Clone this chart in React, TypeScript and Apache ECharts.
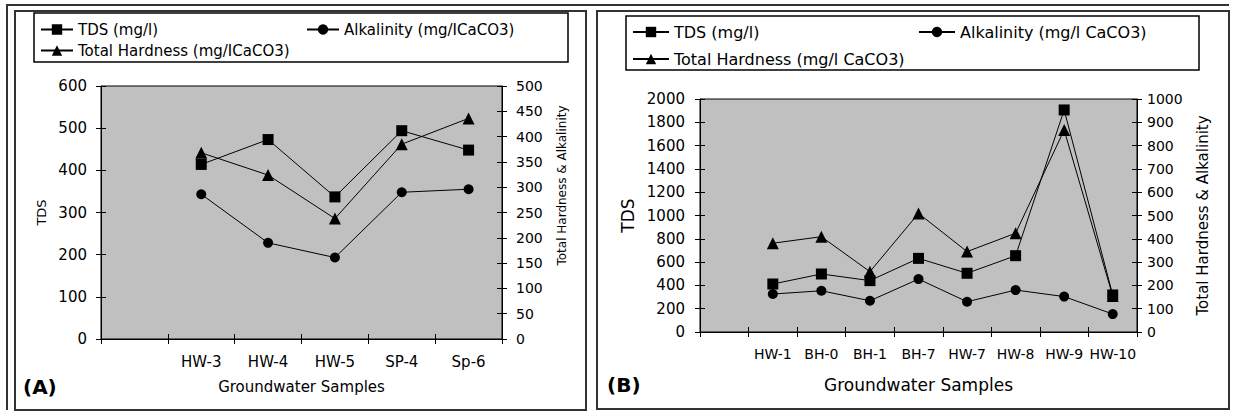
import React, { useEffect, useRef } from 'react';
import * as echarts from 'echarts';

// Panel A data
const categoriesA = ['', 'HW-3', 'HW-4', 'HW-5', 'SP-4', 'Sp-6'];
const tdsA = [null, 414, 473, 337, 494, 448];
const alkalinityA = [null, 286, 190, 161, 290, 296];
const hardnessA = [null, 368, 324, 238, 385, 436];

// Panel B data
const categoriesB = ['', 'HW-1', 'BH-0', 'BH-1', 'BH-7', 'HW-7', 'HW-8', 'HW-9', 'HW-10'];
const tdsB = [null, 412, 498, 441, 632, 504, 655, 1906, 318];
const alkalinityB = [null, 163, 177, 134, 227, 130, 180, 152, 77];
const hardnessB = [null, 381, 409, 259, 509, 345, 424, 867, 155];

const namesA = ['TDS (mg/l)', 'Alkalinity (mg/ICaCO3)', 'Total Hardness (mg/ICaCO3)'];
const namesB = ['TDS (mg/l)', 'Alkalinity (mg/l CaCO3)', 'Total Hardness (mg/l CaCO3)'];

const FONT = 'DejaVu Sans';

function yAxes(gridIndex: number, position: string, min: number, max: number, interval: number,
  labelSize: number, margin: number, name: string, nameSize: number, nameGap: number, namePadding: number[]) {
  return [
    {
      type: 'value', gridIndex, position, min, max, interval,
      axisLine: { show: true, lineStyle: { color: '#000', width: 1 } },
      axisTick: { show: true, length: 5, lineStyle: { color: '#000' } },
      axisLabel: { fontFamily: FONT, fontSize: labelSize, color: '#000', margin, formatter: (v: number) => String(v) },
      splitLine: { show: false },
      name, nameLocation: 'middle', nameRotate: 90, nameGap,
      nameTextStyle: { fontFamily: FONT, fontSize: nameSize, color: '#000', padding: namePadding },
    },
    {
      type: 'value', gridIndex, position, min, max, interval,
      axisLine: { show: false },
      axisTick: { show: true, inside: true, length: 5, lineStyle: { color: '#000' } },
      axisLabel: { show: false },
      splitLine: { show: false },
    },
  ];
}

function xAxes(gridIndex: number, data: string[], labelSize: number, nameSize: number, nameGap: number) {
  return [
    {
      type: 'category', gridIndex, data, boundaryGap: true, position: 'bottom',
      axisLine: { show: true, lineStyle: { color: '#000', width: 1 } },
      axisTick: { show: true, length: 5, interval: 0, lineStyle: { color: '#000' } },
      axisLabel: { interval: 0, fontFamily: FONT, fontSize: labelSize, color: '#000', margin: 15, hideOverlap: false },
      splitLine: { show: false },
      name: 'Groundwater Samples', nameLocation: 'middle', nameGap,
      nameTextStyle: { fontFamily: FONT, fontSize: nameSize, color: '#000' },
    },
    {
      type: 'category', gridIndex, data, boundaryGap: true, position: 'bottom',
      axisLine: { show: false },
      axisTick: { show: true, inside: true, length: 5, interval: 0, lineStyle: { color: '#000' } },
      axisLabel: { show: false },
      splitLine: { show: false },
    },
  ];
}

function lineSeries(name: string, data: (number | null)[], xAxisIndex: number, yAxisIndex: number, symbol: string, symbolSize: number) {
  return {
    type: 'line', name, data, xAxisIndex, yAxisIndex, symbol, symbolSize,
    showSymbol: true, connectNulls: false,
    lineStyle: { color: '#000', width: 1 },
    itemStyle: { color: '#000' },
  };
}

function legendItem(name: string, left: number, top: number, itemWidth: number, fontSize: number) {
  return {
    show: true, data: [name], left, top, itemWidth, itemHeight: 13, padding: 0, selectedMode: false,
    textStyle: { fontFamily: FONT, fontSize, color: '#000' },
  };
}

export default function App() {
  const ref = useRef<HTMLDivElement>(null);
  useEffect(() => {
    if (!ref.current) return;
    const chart = echarts.init(ref.current, undefined, { renderer: 'svg' });
    const option: any = {
      animation: false,
      backgroundColor: '#fff',
      grid: [
        { left: 101, top: 86, width: 401, height: 253, show: true, backgroundColor: '#c0c0c0', borderColor: '#000', borderWidth: 1 },
        { left: 700, top: 99, width: 437, height: 233, show: true, backgroundColor: '#c0c0c0', borderColor: '#000', borderWidth: 1 },
      ],
      xAxis: [
        ...xAxes(0, categoriesA, 15, 15, 40),
        ...xAxes(1, categoriesB, 14, 17, 44),
      ],
      yAxis: [
        ...yAxes(0, 'left', 0, 600, 100, 15, 14, 'TDS', 13, 53, [0, 0, 0, 0]),
        ...yAxes(0, 'right', 0, 500, 50, 14, 14, 'Total Hardness & Alkalinity', 12, 54, [0, 0, 0, 54]),
        ...yAxes(1, 'left', 0, 2000, 200, 15, 15, 'TDS', 17, 64, [0, 0, 0, 0]),
        ...yAxes(1, 'right', 0, 1000, 100, 14, 10, 'Total Hardness & Alkalinity', 15, 58, [0, 0, 0, 0]),
      ],
      legend: [
        legendItem(namesA[0], 40, 22, 32, 15),
        legendItem(namesA[1], 306, 22, 32, 15),
        legendItem(namesA[2], 40, 43, 32, 15),
        legendItem(namesB[0], 632, 24, 36, 16),
        legendItem(namesB[1], 918, 24, 36, 16),
        legendItem(namesB[2], 632, 51, 36, 16),
      ],
      series: [
        lineSeries(namesA[0], tdsA, 0, 0, 'rect', 11),
        lineSeries(namesA[1], alkalinityA, 0, 2, 'circle', 10),
        lineSeries(namesA[2], hardnessA, 0, 2, 'triangle', 12),
        lineSeries(namesB[0], tdsB, 2, 4, 'rect', 11),
        lineSeries(namesB[1], alkalinityB, 2, 6, 'circle', 10),
        lineSeries(namesB[2], hardnessB, 2, 6, 'triangle', 12),
      ],
      graphic: [
        { type: 'polyline', shape: { points: [[7, 410], [7, 5], [1229, 5]] }, style: { fill: 'none', stroke: '#333', lineWidth: 2 } },
        { type: 'rect', shape: { x: 15, y: 11, width: 571, height: 399 }, style: { fill: 'none', stroke: '#333', lineWidth: 2 } },
        { type: 'rect', shape: { x: 597, y: 11, width: 632, height: 398 }, style: { fill: 'none', stroke: '#333', lineWidth: 2 } },
        { type: 'rect', shape: { x: 34, y: 13, width: 534, height: 49 }, style: { fill: 'none', stroke: '#000', lineWidth: 1.5 } },
        { type: 'rect', shape: { x: 626, y: 16, width: 573, height: 54 }, style: { fill: 'none', stroke: '#000', lineWidth: 1.5 } },
        { type: 'text', x: 23, y: 387, style: { text: '(A)', fontFamily: FONT, fontSize: 20, fontWeight: 'bold', fill: '#000', verticalAlign: 'middle' } },
        { type: 'text', x: 607, y: 385, style: { text: '(B)', fontFamily: FONT, fontSize: 20, fontWeight: 'bold', fill: '#000', verticalAlign: 'middle' } },
      ],
    };
    chart.setOption(option);
    return () => chart.dispose();
  }, []);
  return (
    <div
      ref={ref}
      style={{ position: 'absolute', left: 0, top: 0, width: 1235, height: 413, background: '#fff' }}
    />
  );
}
